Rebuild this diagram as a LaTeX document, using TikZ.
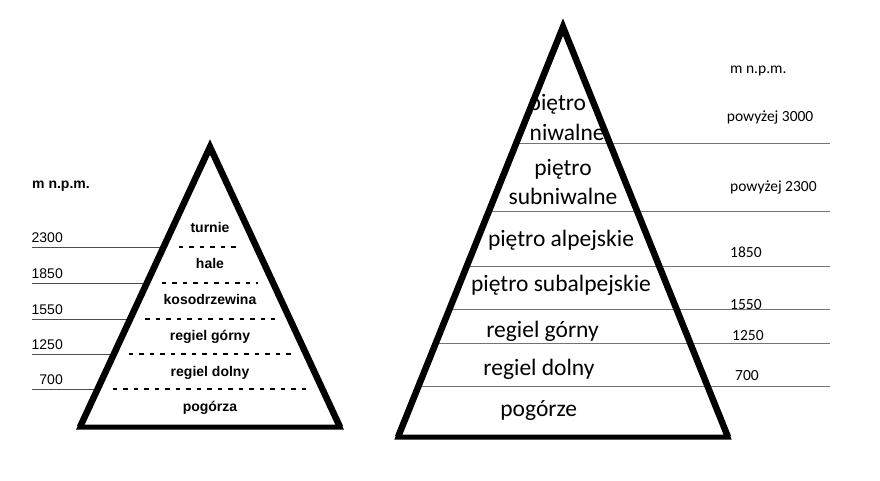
\documentclass[tikz,border=0pt]{standalone}
\usepackage{fontspec}
\newfontfamily\arialfont{Liberation Sans}
\newfontfamily\calibrifont{Carlito}
\begin{document}
\begin{tikzpicture}[x=1pt, y=-1pt,
  pyramid/.style={line width=5pt, line join=miter},
  pyramidside/.style={line width=6.5pt, line join=miter},
  levelline/.style={draw=black!70, line width=0.8pt},
  zoneline/.style={dash pattern=on 4.5pt off 6pt, line width=1.7pt},
  heightline/.style={draw=black!55, line width=0.9pt},
  boldlabel/.style={anchor=base, inner sep=0pt, font=\arialfont\bfseries\fontsize{14}{16}\selectfont},
  numlabel/.style={anchor=base east, inner sep=0pt, font=\arialfont\fontsize{14}{16}\selectfont},
  biglabel/.style={anchor=base, inner sep=0pt, font=\calibrifont\fontsize{23.5}{28}\selectfont},
  smalllabel/.style={anchor=base west, inner sep=0pt, font=\calibrifont\fontsize{15.5}{18}\selectfont}]
\useasboundingbox (0,0) rectangle (880,480);

\def \lax {210}  % left apex
\def \lay {147}
\def \lbl {80}
\def \lbr {340}
\def \lby {427}

\def \rax {563}  % right apex
\def \ray {27}
\def \rbl {398}
\def \rbr {728}
\def \rby {437}
\def \rend {830}

% left scale
\node [boldlabel, anchor=base west] (unitl) at (32, 188) {m n.p.m.};
\foreach \y/\h in {247/2300, 283/1850, 319/1550, 354/1250, 389/700} {
  \pgfmathsetmacro\hw{(\lax-\lbl)/(\lby-\lay)*(\y-\lay)}
  \coordinate (edge\h) at (\lax-\hw, \y);
  \coordinate (start\h) at (32, \y);
  \node [numlabel] (num\h) at (63, \y-4.5) {\h};
  \draw [levelline] (start\h) -- (edge\h);
  \draw [zoneline] (\lax-\hw+15, \y) -- (\lax+\hw-15, \y);
}

% left zones
\foreach \y/\t [count=\i] in {232/turnie, 268/hale, 304/kosodrzewina, 340/regiel górny, 376/regiel dolny, 411.7/pogórza}
  \node [boldlabel] (zone\i) at (\lax, \y) {\t};

% right lines
\foreach \y [count=\i] in {143.5, 211.5, 266.5, 309.5, 343.5, 386.5} {
  \pgfmathsetmacro\hw{(\rax-\rbl)/(\rby-\ray)*(\y-\ray)}
  \coordinate (redge\i) at (\rax-\hw, \y);
  \coordinate (rend\i) at (\rend, \y);
  \draw [heightline] (redge\i) -- (rend\i);
}

% right zones
\node [biglabel, anchor=base west] (niw1) at (528.5, 110) {piętro};
\node [biglabel, anchor=base west] (niw2) at (529.5, 140) {niwalne};
\node [biglabel] (sub1) at (563, 175) {piętro};
\node [biglabel] (sub2) at (563, 204.3) {subniwalne};
\node [biglabel] (alp) at (561, 246) {piętro alpejskie};
\node [biglabel] (subalp) at (561, 291.7) {piętro subalpejskie};
\node [biglabel] (rgorny) at (542.5, 337.3) {regiel górny};
\node [biglabel] (rdolny) at (539, 375) {regiel dolny};
\node [biglabel] (pog) at (538.7, 416.7) {pogórze};

% right scale
\node [smalllabel] (unitr) at (730, 73) {m n.p.m.};
\node [smalllabel] (h3000) at (726.7, 121) {powyżej 3000};
\node [smalllabel] (h2300) at (730, 191.7) {powyżej 2300};
\node [smalllabel] (h1850) at (730, 257.3) {1850};
\node [smalllabel] (h1550) at (730, 309.3) {1550};
\node [smalllabel] (h1250) at (732, 340) {1250};
\node [smalllabel] (h700) at (735, 380.7) {700};

% pyramids
\draw [pyramid] (\lax, \lay) -- (\lbr, \lby) -- (\lbl, \lby) -- cycle;
\draw [pyramidside] (\lbl, \lby) -- (\lax, \lay) -- (\lbr, \lby);
\draw [pyramid] (\rax, \ray) -- (\rbr, \rby) -- (\rbl, \rby) -- cycle;
\draw [pyramidside] (\rbl, \rby) -- (\rax, \ray) -- (\rbr, \rby);

\end{tikzpicture}
\end{document}
